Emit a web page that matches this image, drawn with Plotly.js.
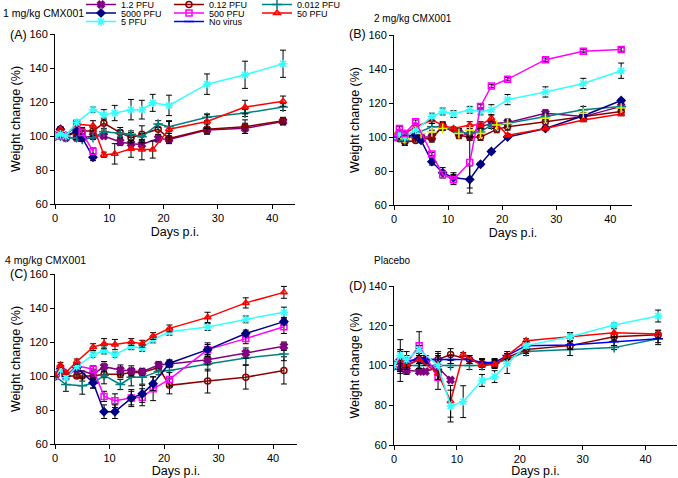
<!DOCTYPE html>
<html><head><meta charset="utf-8">
<script src="https://cdn.plot.ly/plotly-3.0.1.min.js"></script>
<style>html,body{margin:0;padding:0;background:#fff}#chart{width:678px;height:478px}</style>
</head><body><div id="chart"></div>
<script>
// ---------- DATA ----------
const days = [0,1,2,4,5,7,9,11,12,14,16,18,19,21,28,35,42];
const seriesNames = ['1.2 PFU','0.12 PFU','0.012 PFU','5000 PFU','500 PFU','50 PFU','5 PFU','No virus'];
const N = null;

// Panel A: 1 mg/kg CMX001
const A_p1_2     = [100,101,99,99,99,100,100,N,96.5,95.5,95,N,98.5,98,103.5,104.5,108.5];
const A_p1_2_err = [0,1,1,1,1,1,1.5,N,2,2,2,N,2,2,2,3,2];
const A_p0_12     = [100,104,100,102,103,103,107.5,N,102,99,101,N,104,98.5,104,105.5,109];
const A_p0_12_err = [0,1.5,1,1,2,3,3,N,3,3,5,N,3,3,3,4,2];
const A_p0_012     = [100,100,99,99,98,99,102.5,N,101.5,101,99.5,N,107,105.5,111,113.5,117];
const A_p0_012_err = [0,1,1,1,1,1,1,N,2,2,2,N,2,3,2,2,2];
const A_p5000     = [100,104,100,103,99,87.5,N,N,N,N,N,N,N,N,N,N,N];
const A_p5000_err = [0,1,1,1,2,2,N,N,N,N,N,N,N,N,N,N,N];
const A_p500     = [100,100,100,107.5,102,91,N,N,N,N,N,N,N,N,N,N,N];
const A_p500_err = [0,1,1,1,1,2,N,N,N,N,N,N,N,N,N,N,N];
const A_p50     = [100,104,100,107,N,106,89,89.5,N,92.5,92,92,N,104,108.5,117,120.5];
const A_p50_err = [0,1,1,1,N,3,1.5,6,N,5,6,5,N,5,4,4,3];
const A_p5     = [100,101,100,108,N,115.5,112.5,113.5,N,115.5,115.5,119.5,N,118,130.5,136,142.5];
const A_p5_err = [0,1,1,1,N,1.5,3,4.5,N,6,5.5,5,N,6,6,8,8];

// Panel B: 2 mg/kg CMX001
const B_p1_2     = [100,102,100,100,100,100,106,N,102.5,101,106,108,N,108.5,114,112,118];
const B_p1_2_err = [0,1,1,1,1,2,2,N,2,2,2,2,N,2,2,2,2];
const B_p0_12     = [100,99,97,98,99,99,106.5,N,101,100,100,N,104.5,106,109,112,115];
const B_p0_12_err = [0,1,2,1,1,2,2,N,2,2,2,N,2,2,2,2,2];
const B_p0_012     = [100,100,98,102,N,106,106,N,103,102,103,107,N,108,112,116,118];
const B_p0_012_err = [0,1,2,1,N,2,2,N,2,2,2,2,N,2,2,2,2];
const B_p5000     = [100,101,100,101.5,98,85.5,79,76,N,75,84,91.5,N,100,105,112.5,121.5];
const B_p5000_err = [0,1,1,1,1,2,3,3,N,8,1,1,N,1,1,1,1];
const B_p500     = [100,105,102,109,N,90,78,75,N,85,118,130,N,134,145.5,150.5,151.5];
const B_p500_err = [0,1,1,1,N,1,2,3,N,15,1,1,N,1,1,1,1];
const B_p50     = [100,103,102,106,N,110,107,105,N,107,107,111,N,101,105,110,113.5];
const B_p50_err = [0,1,1,1,N,2,2,1,N,2,2,2,N,1,1,1,1];
const B_p5     = [100,102,100,104,N,112,115,113.5,N,116,115,116,N,122,126.5,131.5,139];
const B_p5_err = [0,1,1,1,N,2,2,2,N,2,2,3,N,3,3,3,4.5];
const B_extra  = [100,N,99,N,102,103,105,N,102,104,102,N,107,108,111,114,117];

// Panel C: 4 mg/kg CMX001
const C_p1_2     = [100,103,100,104,N,101,105.5,N,103.5,103,102.5,N,106.5,107,109.5,113.5,117.5];
const C_p1_2_err = [0,1,1,1,N,3,3,N,3,3,2,N,2,2,3,3,2.5];
const C_p0_12     = [100,105,100,100,100,100,101,N,101,102,102,N,105,94.5,97,99.3,103.3];
const C_p0_12_err = [0,1,1,1,3,2,2,N,2,2,2,N,2,5,7,7,8];
const C_p0_012     = [100,N,95,N,94.3,95.8,100.4,N,95,99.2,99.2,N,102.7,103.3,107,110.6,113];
const C_p0_012_err = [0,N,4,N,5,3,5,N,3,5,4,N,2,5,4,4,4];
const C_p5000     = [100,104,100,105,N,96,79,79,N,87,89.5,95.5,N,107.5,115.5,125,132];
const C_p5000_err = [0,1,1,1,N,3,4,4,N,4,5,4,N,2,3,2,2];
const C_p500     = [100,104,100,106,N,104,88,85.5,N,87,87.5,92.5,N,98,115.5,122,129];
const C_p500_err = [0,1,1,1,N,2,3,4,N,5,5,7,N,4,4,3,4];
const C_p50     = [100,106.5,102,108.5,N,117,119,118.5,N,120,119,123.5,N,128,134.5,143,149.2];
const C_p50_err = [0,1.5,1,1.5,N,2,3,3,N,2,2,2,N,2,3,3,3.5];
const C_p5     = [100,103.7,99,105.5,N,112.5,115,112.5,N,117.5,116.5,121.5,N,126,128.8,133.3,137.5];
const C_p5_err = [0,1,1,1,N,1.5,2,1.5,N,2,2,2,N,2,2,2,3];

// Panel D: Placebo
const D_p1_2     = [100,99,97.5,97,97,99,92.7,N,N,N,N,N,N,N,N,N,N];
const D_p1_2_err = [0,3,2,1,1,2,1,N,N,N,N,N,N,N,N,N,N];
const D_p0_12     = [100,100,102,103,103,103,105.5,N,103,101,101,104,N,108,110,114.5,115.5];
const D_p0_12_err = [0,8,2,2,2,3,3,N,2,2,2,2,N,2,2,2,2];
const D_p0_012     = [100,101,100,100,N,100,100,N,100,100,101,103,N,107,108,109,113.5];
const D_p0_012_err = [0,2,2,2,N,2,1,N,2,2,2,2,N,2,3,1,3];
const D_p5000     = [100,102,100,103,102,97,N,N,N,N,N,N,N,N,N,N,N];
const D_p5000_err = [0,5,2,6,2,4,N,N,N,N,N,N,N,N,N,N,N];
const D_p500     = [100,102,101,110,N,94,N,N,N,N,N,N,N,N,N,N,N];
const D_p500_err = [0,2,2,7,N,6,N,N,N,N,N,N,N,N,N,N,N];
const D_p50     = [100,103,100,103,N,96,82,105.5,N,100,100.5,105,N,112.5,114.5,116.5,115.8];
const D_p50_err = [0,2,2,2,N,3,8,1,N,1,2,1,N,1,2,2,2];
const D_p5     = [100,105,103,108,N,100,79.6,81.8,N,92.5,94.4,101,N,110,114.5,120.4,124.9];
const D_p5_err = [0,8,4,2,N,7,8,8,N,3,3,5,N,2,2,1,3];
const D_noVirus     = [100,103,102,103.5,103,103,103,N,103,101.5,101.5,105,N,110,110.3,112,113.5];
const D_noVirus_err = [0,5,3,5,2,2,2,N,2,2,2,2,N,2,2,2,2];

const panelTitles = ['1 mg/kg CMX001','2 mg/kg CMX001','4 mg/kg CMX001','Placebo'];
const panelLetters = ['(A)','(B)','(C)','(D)'];

// ---------- STYLE ----------
const F = 'Liberation Sans, Arial, sans-serif';
const style = {
  '1.2 PFU':  {color:'#800080', symbol:'x', size:6, legend:'legend'},
  '0.12 PFU': {color:'#8B0000', symbol:'circle-open', size:6, legend:'legend'},
  '0.012 PFU':{color:'#008080', symbol:'cross-thin-open', size:7, legend:'legend'},
  '5000 PFU': {color:'#000080', symbol:'diamond', size:6, legend:'legend2'},
  '500 PFU':  {color:'#FF00FF', symbol:'square-open', size:6, legend:'legend2'},
  '50 PFU':   {color:'#FF0000', symbol:'triangle-up-open', size:6, legend:'legend2'},
  '5 PFU':    {color:'#33FFFF', symbol:'asterisk-open', size:7, legend:'legend3'},
  'No virus': {color:'#0000FF', symbol:'line-ew-open', size:7, legend:'legend3'}
};

function mk(name, vals, errs, xa, ya, showlegend, colorOverride, symOverride, mode){
  const s = style[name];
  const c = colorOverride || s.color;
  return {
    type:'scatter', mode:mode||'lines+markers', name:name, x:days, y:vals,
    xaxis:xa, yaxis:ya, connectgaps:true, showlegend:showlegend, legend:s.legend,
    line:{color:c, width:1.5},
    marker:{symbol:symOverride||s.symbol, size:s.size, color:c, line:{color:c, width:1.5}},
    error_y: errs ? {type:'data', array:errs, visible:true, color:'#000', thickness:1, width:3} : {visible:false}
  };
}

const traces = [
  // panel A (legend source)
  mk('1.2 PFU', A_p1_2, A_p1_2_err, 'x','y', true),
  mk('0.12 PFU', A_p0_12, A_p0_12_err, 'x','y', true),
  mk('0.012 PFU', A_p0_012, A_p0_012_err, 'x','y', true),
  mk('5000 PFU', A_p5000, A_p5000_err, 'x','y', true),
  mk('500 PFU', A_p500, A_p500_err, 'x','y', true),
  mk('50 PFU', A_p50, A_p50_err, 'x','y', true),
  mk('5 PFU', A_p5, A_p5_err, 'x','y', true),
  // panel B
  mk('1.2 PFU', B_p1_2, B_p1_2_err, 'x2','y2', false),
  mk('0.12 PFU', B_p0_12, B_p0_12_err, 'x2','y2', false),
  mk('0.012 PFU', B_p0_012, B_p0_012_err, 'x2','y2', false),
  mk('5000 PFU', B_p5000, B_p5000_err, 'x2','y2', false),
  mk('50 PFU', B_p50, B_p50_err, 'x2','y2', false),
  mk('No virus', B_extra, null, 'x2','y2', false, '#E8E800', 'cross-thin-open', 'markers'),
  mk('5 PFU', B_p5, B_p5_err, 'x2','y2', false),
  mk('500 PFU', B_p500, B_p500_err, 'x2','y2', false),
  // panel C
  mk('0.12 PFU', C_p0_12, C_p0_12_err, 'x3','y3', false),
  mk('0.012 PFU', C_p0_012, C_p0_012_err, 'x3','y3', false),
  mk('1.2 PFU', C_p1_2, C_p1_2_err, 'x3','y3', false),
  mk('500 PFU', C_p500, C_p500_err, 'x3','y3', false),
  mk('5000 PFU', C_p5000, C_p5000_err, 'x3','y3', false),
  mk('5 PFU', C_p5, C_p5_err, 'x3','y3', false),
  mk('50 PFU', C_p50, C_p50_err, 'x3','y3', false),
  // panel D
  mk('0.012 PFU', D_p0_012, D_p0_012_err, 'x4','y4', false),
  mk('0.12 PFU', D_p0_12, D_p0_12_err, 'x4','y4', false),
  mk('5000 PFU', D_p5000, D_p5000_err, 'x4','y4', false),
  mk('500 PFU', D_p500, D_p500_err, 'x4','y4', false),
  mk('1.2 PFU', D_p1_2, D_p1_2_err, 'x4','y4', false),
  mk('No virus', D_noVirus, D_noVirus_err, 'x4','y4', true),
  mk('50 PFU', D_p50, D_p50_err, 'x4','y4', false),
  mk('5 PFU', D_p5, D_p5_err, 'x4','y4', false)
];

const W = 678, H = 478;
const px = v => v / W;
const py = v => 1 - v / H;

const axX = (domain, rng) => ({
  domain:domain, range:rng, dtick:10, tick0:0, showline:true, linecolor:'#000', linewidth:1,
  ticks:'outside', ticklen:4, tickcolor:'#000', showgrid:false, zeroline:false, automargin:false,
  tickfont:{family:F, size:11, color:'#000'},
  title:{text:'Days p.i.', font:{family:F, size:12.5, color:'#000'}, standoff:4}
});
const axY = (domain, rng, anchor) => ({
  domain:domain, range:rng, dtick:20, tick0:0, showline:true, linecolor:'#000', linewidth:1,
  ticks:'outside', ticklen:4, tickcolor:'#000', showgrid:false, zeroline:false, anchor:anchor, automargin:false,
  tickfont:{family:F, size:11, color:'#000'},
  title:{text:'Weight change (%)', font:{family:F, size:12.5, color:'#000'}, standoff:6}
});

const legBase = {orientation:'h', xref:'paper', yref:'paper', xanchor:'left', yanchor:'middle',
  entrywidth:43, font:{family:F, size:9, color:'#000'}, bgcolor:'rgba(0,0,0,0)', borderwidth:0, itemwidth:30};

const layout = {
  width:W, height:H, margin:{l:0,r:0,t:0,b:0,autoexpand:false}, paper_bgcolor:'#fff', plot_bgcolor:'#fff',
  font:{family:F, color:'#000'},
  xaxis: Object.assign(axX([px(55), px(295)], [0,44.2]), {anchor:'y'}),
  yaxis: axY([1-204/H, 1-34/H], [60,160], 'x'),
  xaxis2: Object.assign(axX([px(394), px(632)], [0,44]), {anchor:'y2'}),
  yaxis2: axY([1-205/H, 1-35/H], [60,160], 'x2'),
  xaxis3: Object.assign(axX([px(55), px(297)], [0,44.4]), {anchor:'y3'}),
  yaxis3: axY([1-444/H, 1-274/H], [60,160], 'x3'),
  xaxis4: Object.assign(axX([px(394), px(677)], [0,45]), {anchor:'y4'}),
  yaxis4: axY([1-445/H, 1-286/H], [60,140], 'x4'),
  legend:  Object.assign({}, legBase, {x:px(81), y:py(4.5)}),
  legend2: Object.assign({}, legBase, {x:px(81), y:py(13)}),
  legend3: Object.assign({}, legBase, {x:px(81), y:py(21.5)}),
  showlegend:true,
  annotations:[
    {text:panelTitles[0], x:px(1), y:py(13), xanchor:'left', yanchor:'middle', xref:'paper', yref:'paper', showarrow:false, font:{family:F,size:10.5}},
    {text:panelTitles[1], x:px(372), y:py(18), xanchor:'left', yanchor:'middle', xref:'paper', yref:'paper', showarrow:false, font:{family:F,size:10}},
    {text:panelTitles[2], x:px(3), y:py(260), xanchor:'left', yanchor:'middle', xref:'paper', yref:'paper', showarrow:false, font:{family:F,size:10.5}},
    {text:panelTitles[3], x:px(372), y:py(260), xanchor:'left', yanchor:'middle', xref:'paper', yref:'paper', showarrow:false, font:{family:F,size:10}},
    {text:panelLetters[0], x:px(8), y:py(35), xanchor:'left', yanchor:'middle', xref:'paper', yref:'paper', showarrow:false, font:{family:F,size:12.5}},
    {text:panelLetters[1], x:px(347), y:py(34), xanchor:'left', yanchor:'middle', xref:'paper', yref:'paper', showarrow:false, font:{family:F,size:12.5}},
    {text:panelLetters[2], x:px(8), y:py(274), xanchor:'left', yanchor:'middle', xref:'paper', yref:'paper', showarrow:false, font:{family:F,size:12.5}},
    {text:panelLetters[3], x:px(347), y:py(286), xanchor:'left', yanchor:'middle', xref:'paper', yref:'paper', showarrow:false, font:{family:F,size:12.5}}
  ]
};

Plotly.newPlot('chart', traces, layout, {staticPlot:true, displayModeBar:false});
</script></body></html>
